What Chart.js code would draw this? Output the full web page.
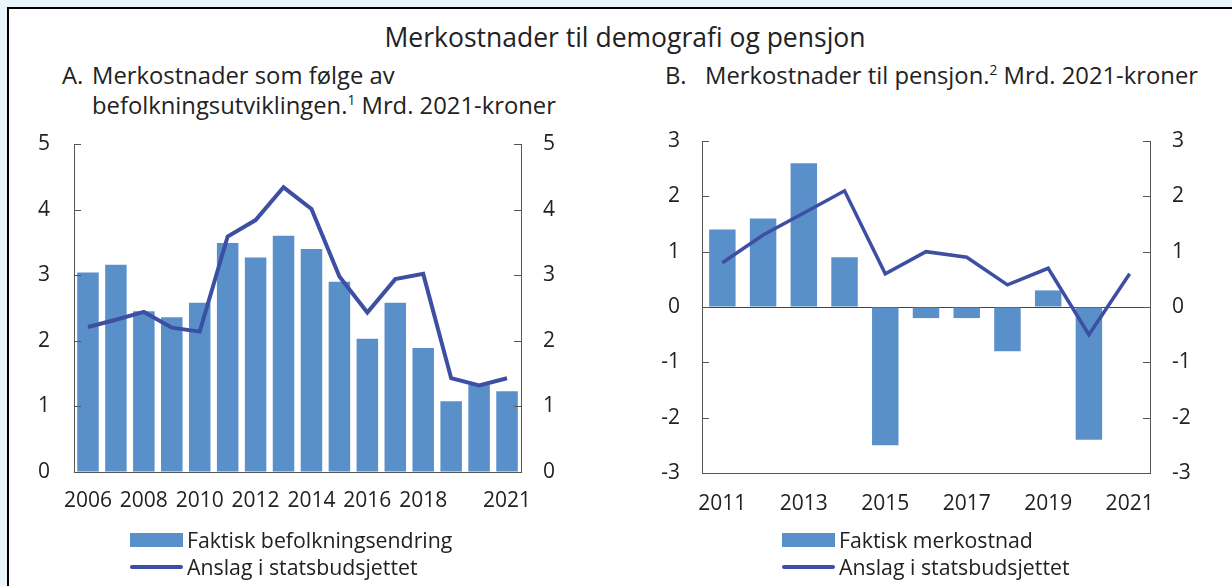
<!DOCTYPE html>
<html>
<head>
<meta charset="utf-8">
<script src="https://cdn.jsdelivr.net/npm/chart.js@4.4.1/dist/chart.umd.min.js"></script>
<style>
  html, body { margin: 0; padding: 0; width: 1232px; height: 586px; overflow: hidden; background: #eaf6fc; }
  body { font-family: "Open Sans", sans-serif; color: #222; position: relative; }
  .frame { position: absolute; left: 7px; top: 7px; width: 1260px; height: 620px; border: 2px solid #000; background: #fff; }
  .t { position: absolute; white-space: nowrap; line-height: 1; }
  .main { font-size: 26.5px; left: 0; width: 1250px; text-align: center; top: 24px; }
  .pt { font-size: 23.8px; }
  sup { font-size: 0.58em; vertical-align: 0.62em; line-height: 0; }
  .cv { position: absolute; top: 0; }
  .leg { position: absolute; font-size: 21.3px; line-height: 1; white-space: nowrap; }
  .sw { position: absolute; }
</style>
</head>
<body>
<div class="frame"></div>
<div class="t main">Merkostnader til demografi og pensjon</div>
<div class="t pt" style="left:62px; top:64px;">A.</div>
<div class="t pt" style="left:92px; top:64px;">Merkostnader som følge av</div>
<div class="t pt" style="left:92px; top:94px;">befolkningsutviklingen.<sup>1</sup> Mrd. 2021-kroner</div>
<div class="t pt" style="left:665px; top:64px;">B.</div>
<div class="t pt" style="left:705px; top:64px;">Merkostnader til pensjon.<sup>2</sup> Mrd. 2021-kroner</div>

<canvas id="cA" class="cv" width="616" height="586" style="left:0px;"></canvas>
<canvas id="cB" class="cv" width="616" height="586" style="left:616px;"></canvas>

<div id="legA"></div>
<div id="legB"></div>

<script>
// ---- Data ----
const yearsA = [2006, 2007, 2008, 2009, 2010, 2011, 2012, 2013, 2014, 2015, 2016, 2017, 2018, 2019, 2020, 2021];
const faktiskA = [3.04, 3.16, 2.45, 2.36, 2.58, 3.49, 3.27, 3.60, 3.40, 2.90, 2.03, 2.58, 1.89, 1.08, 1.33, 1.23];
const anslagA = [2.21, 2.32, 2.44, 2.20, 2.14, 3.59, 3.84, 4.34, 4.01, 2.98, 2.43, 2.94, 3.02, 1.43, 1.32, 1.43];
const shownTicksA = [2006, 2008, 2010, 2012, 2014, 2016, 2018, 2021];

const yearsB = [2011, 2012, 2013, 2014, 2015, 2016, 2017, 2018, 2019, 2020, 2021];
const faktiskB = [1.4, 1.6, 2.6, 0.9, -2.5, -0.2, -0.2, -0.8, 0.3, -2.4, null];
const anslagB = [0.8, 1.3, 1.7, 2.1, 0.6, 1.0, 0.9, 0.4, 0.7, -0.5, 0.6];
const shownTicksB = [2011, 2013, 2015, 2017, 2019, 2021];

const labelsA = ["Faktisk befolkningsendring", "Anslag i statsbudsjettet"];
const labelsB = ["Faktisk merkostnad", "Anslag i statsbudsjettet"];

const BAR = '#5a90ca';
const LINE = '#3d4fa3';
const AXIS = '#555';
const TXT = '#222';
const FONT = { family: '"Open Sans", sans-serif', size: 21 };

// inward tick marks on y axes
const inwardTicks = {
  id: 'inwardTicks',
  afterDatasetsDraw(chart) {
    const ctx = chart.ctx, ca = chart.chartArea;
    ctx.save();
    ctx.strokeStyle = AXIS;
    ctx.lineWidth = 1;
    Object.values(chart.scales).forEach(s => {
      if (s.axis !== 'y') return;
      const x0 = s.position === 'left' ? ca.left : ca.right;
      const dir = s.position === 'left' ? 1 : -1;
      s.ticks.forEach(t => {
        const y = Math.round(s.getPixelForValue(t.value)) + 0.5;
        ctx.beginPath();
        ctx.moveTo(x0, y);
        ctx.lineTo(x0 + dir * 7, y);
        ctx.stroke();
      });
    });
    ctx.restore();
  }
};

function yScale(pos, min, max, pad, zeroLine) {
  return {
    type: 'linear', position: pos, min: min, max: max,
    afterFit(s) { s.width = 60; },
    ticks: { stepSize: 1, color: TXT, font: FONT, padding: pad },
    grid: {
      drawTicks: false,
      drawOnChartArea: !!zeroLine,
      color: (c) => (zeroLine && c.tick && c.tick.value === 0) ? '#444' : 'rgba(0,0,0,0)'
    },
    border: { display: true, color: AXIS, width: 1 }
  };
}

function makeChart(id, years, bars, line, shown, min, max, opts) {
  return new Chart(document.getElementById(id), {
    type: 'bar',
    data: {
      labels: years.map(String),
      datasets: [
        { type: 'line', label: opts.lineLabel, data: line, borderColor: LINE, backgroundColor: LINE,
          borderWidth: opts.lw, pointRadius: 0, tension: 0, order: 0, xAxisID: 'x', yAxisID: 'y',
          borderJoinStyle: 'miter', borderCapStyle: 'butt' },
        { type: 'bar', label: opts.barLabel, data: bars, backgroundColor: BAR, borderWidth: 0,
          barPercentage: opts.bp, categoryPercentage: 1, order: 1, xAxisID: 'x', yAxisID: 'y' }
      ]
    },
    options: {
      responsive: false, animation: false, devicePixelRatio: 1,
      layout: { padding: opts.padding },
      plugins: { legend: { display: false }, tooltip: { enabled: false } },
      scales: {
        x: {
          type: 'category', offset: true,
          afterFit(s) { s.height = 40; },
          ticks: {
            autoSkip: false, maxRotation: 0, minRotation: 0, color: TXT, font: FONT, padding: opts.xpad,
            callback: function (v, i) { return shown.includes(years[i]) ? String(years[i]) : ''; }
          },
          grid: { display: false, drawTicks: false },
          border: { display: true, color: AXIS, width: 1 }
        },
        y: yScale('left', min, max, opts.ypadL, opts.zeroLine),
        y2: yScale('right', min, max, opts.ypadR, false)
      }
    },
    plugins: [inwardTicks]
  });
}

const chartA = makeChart('cA', yearsA, faktiskA, anslagA, shownTicksA, 0, 5, {
  barLabel: labelsA[0], lineLabel: labelsA[1], lw: 4, bp: 0.77,
  padding: { left: 14, right: 35, top: 144, bottom: 74 }, xpad: 16, ypadL: 24, ypadR: 22, zeroLine: false
});
const chartB = makeChart('cB', yearsB, faktiskB, anslagB, shownTicksB, -3, 3, {
  barLabel: labelsB[0], lineLabel: labelsB[1], lw: 3.5, bp: 0.65,
  padding: { left: 26, right: 22, top: 141, bottom: 73 }, xpad: 18, ypadL: 22, ypadR: 22, zeroLine: true
});

// legends (HTML), built from chart datasets
function buildLegend(elId, chart, left) {
  const el = document.getElementById(elId);
  const ds = chart.data.datasets;
  const bar = ds.find(d => d.type === 'bar');
  const line = ds.find(d => d.type === 'line');
  el.innerHTML =
    `<div class="sw" style="left:${left}px; top:533px; width:53px; height:14px; background:${bar.backgroundColor};"></div>` +
    `<div class="leg" style="left:${left + 57}px; top:529px;">${bar.label}</div>` +
    `<div class="sw" style="left:${left}px; top:565px; width:53px; height:4px; border-radius:2px; background:${line.borderColor};"></div>` +
    `<div class="leg" style="left:${left + 57}px; top:556px;">${line.label}</div>`;
}
buildLegend('legA', chartA, 130);
buildLegend('legB', chartB, 782);
</script>
</body>
</html>
